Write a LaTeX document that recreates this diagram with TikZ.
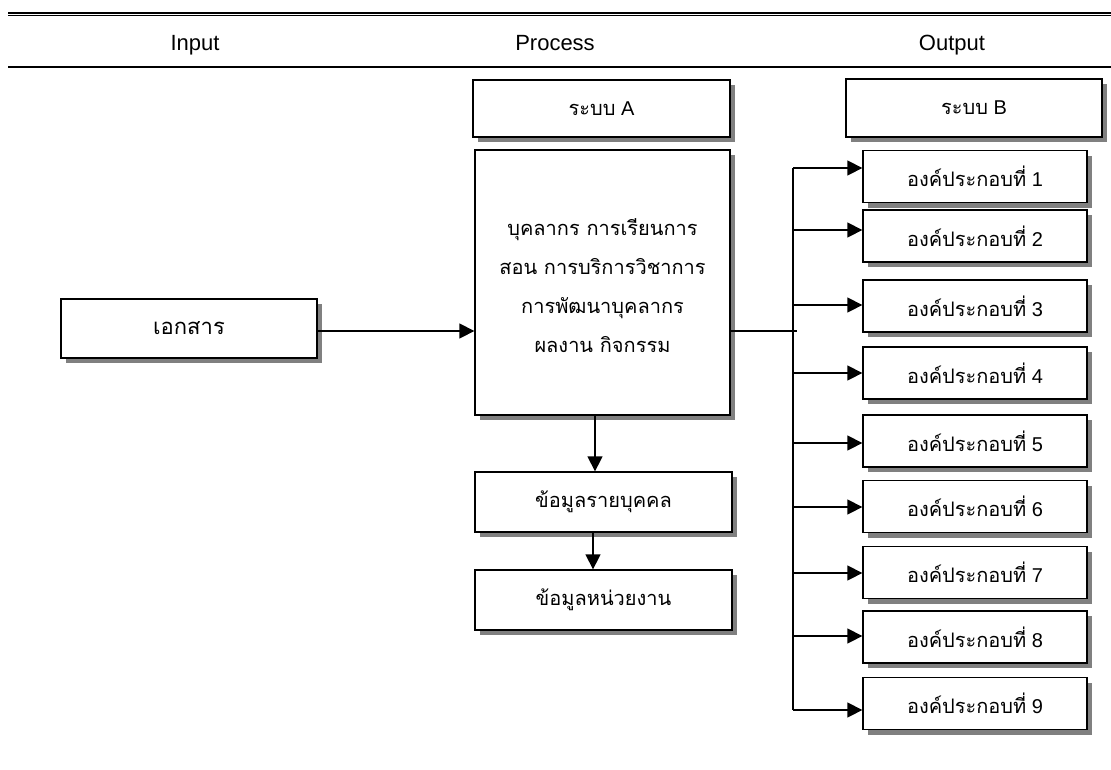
\documentclass[tikz,border=0pt]{standalone}
\usepackage{fontspec}
\setmainfont{Liberation Sans}
\newfontfamily\thai[Script=Thai]{Loma}
\usetikzlibrary{arrows.meta,shadows}
\begin{document}
\begin{tikzpicture}[x=1pt,y=-1pt,
  box/.style={draw,line width=1.3pt,fill=white,inner sep=0pt,
    drop shadow={shadow xshift=5pt,shadow yshift=-5pt,fill=black!50,opacity=1},
    font=\fontsize{20}{24}\selectfont},
  comp/.style={box,minimum width=224pt,minimum height=52pt},
  conn/.style={line width=1.3pt},
  arr/.style={conn,-{Triangle[length=15pt,width=15pt]}},
  head/.style={font=\fontsize{22}{26}\selectfont,anchor=base,inner sep=0pt}]
\useasboundingbox (0,0) rectangle (1111,769);
% header rules
\draw[line width=1.7pt] (8,13.2) -- (1111,13.2);
\draw[line width=1.2pt] (8,15.8) -- (1111,15.8);
\draw[line width=2pt] (8,66.7) -- (1111,66.7);
\node[head] (hin) at (195,50) {Input};
\node[head] (hpr) at (555,50) {Process};
\node[head] (hout) at (952,50) {Output};
% boxes
\node[box,minimum width=257pt,minimum height=57pt] (sysa) at (601.5,108.5) {{\thai ระบบ} A};
\node[box,minimum width=256pt,minimum height=58pt] (sysb) at (974,108) {{\thai ระบบ} B};
\node[box,minimum width=255pt,minimum height=265pt] (main) at (602.5,282.5) {};
\node[font=\fontsize{20}{39}\selectfont\thai,align=center] (maintext) at (602.5,286)
  {บุคลากร การเรียนการ\\สอน การบริการวิชาการ\\การพัฒนาบุคลากร\\ผลงาน กิจกรรม};
\node[box,minimum width=256pt,minimum height=59pt,font=\fontsize{22}{26}\selectfont] (doc) at (189,328.5) {\thai เอกสาร};
\node[box,minimum width=257pt,minimum height=60pt] (pers) at (603.5,502) {\thai ข้อมูลรายบุคคล};
\node[box,minimum width=257pt,minimum height=60pt] (unit) at (603.5,600) {\thai ข้อมูลหน่วยงาน};
\foreach \i/\y in {1/176.5,2/236,3/306,4/373,5/441,6/506.5,7/572.5,8/637,9/703.5}
  \node[comp] (o\i) at (975,\y) {{\thai องค์ประกอบที่} \i};
% connectors
\coordinate (docout) at (317,331);
\draw[arr] (docout) -- (docout -| main.west);
\coordinate (mdown) at (595,415);
\draw[arr] (mdown) -- (mdown |- pers.north);
\coordinate (pdown) at (593,532);
\draw[arr] (pdown) -- (pdown |- unit.north);
\coordinate (mout) at (731,331);
\coordinate (busend) at (797,331);
\draw[conn] (mout) -- (busend);
\coordinate (bustop) at (793,168);
\coordinate (busbot) at (793,710);
\draw[conn] (bustop) -- (busbot);
\foreach \i/\y in {1/168,2/230,3/305,4/373,5/443,6/507,7/573,8/636,9/710}{
  \coordinate (b\i) at (793,\y);
  \draw[arr] (b\i) -- (b\i -| o\i.west);
}
\end{tikzpicture}
\end{document}
